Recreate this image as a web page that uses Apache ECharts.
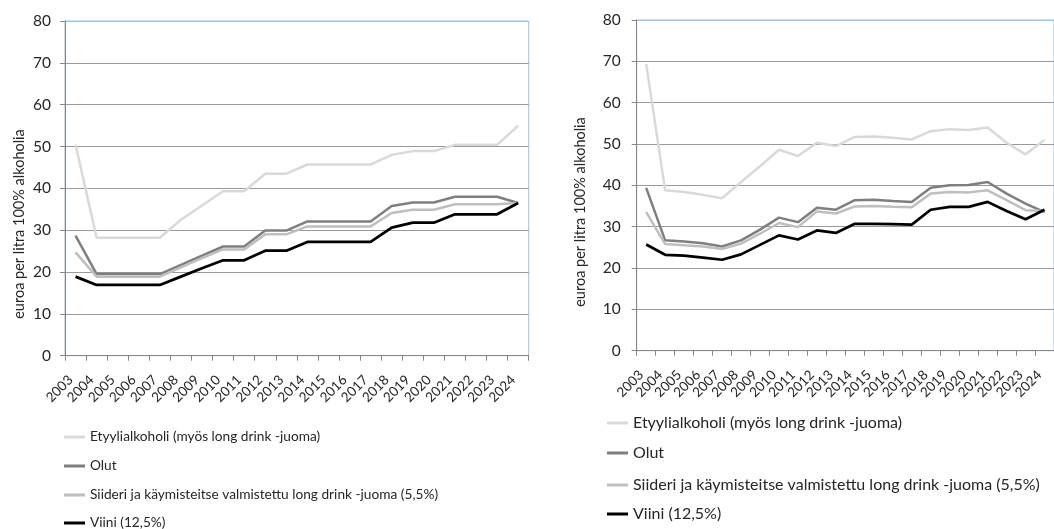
<!DOCTYPE html>
<html>
<head>
<meta charset="utf-8">
<script src="https://cdn.jsdelivr.net/npm/echarts@6/dist/echarts.min.js"></script>
<style>
html,body{margin:0;padding:0;background:#fff;}
#c{width:1054px;height:529px;}
</style>
</head>
<body>
<div id="c"></div>
<script>
var years = ['2003','2004','2005','2006','2007','2008','2009','2010','2011','2012','2013','2014','2015','2016','2017','2018','2019','2020','2021','2022','2023','2024'];
var seriesNames = ['Etyylialkoholi (myös long drink -juoma)','Olut','Siideri ja käymisteitse valmistettu long drink -juoma (5,5%)','Viini (12,5%)'];
var yTitle = 'euroa per litra 100% alkoholia';
var yTicks = [0,10,20,30,40,50,60,70,80];

// Left chart
var etyA   = [50.5,28.2,28.2,28.2,28.2,32.5,35.9,39.3,39.3,43.5,43.5,45.7,45.7,45.7,45.7,48.0,48.9,48.9,50.4,50.4,50.4,55.0];
var olutA  = [28.7,19.5,19.5,19.5,19.5,21.7,23.9,26.1,26.1,29.9,29.9,32.1,32.1,32.1,32.1,35.8,36.6,36.6,38.0,38.0,38.0,36.5];
var siidA  = [24.7,18.9,18.9,18.9,18.9,21.1,23.3,25.4,25.4,29.0,29.0,30.9,30.9,30.9,30.9,34.1,34.9,34.9,36.2,36.2,36.2,36.5];
var viiniA = [18.9,16.9,16.9,16.9,16.9,18.9,20.9,22.8,22.8,25.1,25.1,27.2,27.2,27.2,27.2,30.6,31.8,31.8,33.8,33.8,33.8,36.5];

// Right chart
var etyB   = [69.4,38.8,38.4,37.7,36.9,40.8,44.6,48.6,47.1,50.3,49.5,51.7,51.8,51.5,51.1,53.1,53.6,53.4,54.0,50.3,47.5,51.0];
var olutB  = [39.4,26.7,26.4,26.0,25.2,26.7,29.3,32.2,31.1,34.6,34.1,36.4,36.5,36.2,36.0,39.4,40.0,40.1,40.8,38.0,35.6,33.5];
var siidB  = [33.5,25.8,25.5,25.2,24.6,25.9,28.3,30.9,29.9,33.7,33.2,34.9,35.0,34.8,34.7,38.0,38.4,38.3,38.8,36.4,34.0,33.8];
var viiniB = [25.7,23.2,23.0,22.5,22.0,23.3,25.6,27.9,26.9,29.1,28.5,30.7,30.7,30.6,30.5,34.1,34.8,34.8,36.0,33.8,31.8,34.1];

var colors = ['#D9D9D9','#7F7F7F','#BFBFBF','#000000'];
var widths = [2.5,2.5,2.5,2.75];
var FONT = 'Lato';
var TXT = '#262626';
var GRIDC = '#9A9A9A';
var AXC = '#868686';
var BORDER = '#9DC3E6';

var splitColors = yTicks.map(function(v,i){ return i === yTicks.length-1 ? BORDER : GRIDC; });

function xAxisDef(gi){
  return {
    type:'category', gridIndex:gi, data:years, boundaryGap:true,
    axisLine:{show:true, lineStyle:{color:AXC, width:1}},
    axisTick:{show:true, alignWithLabel:false, length:5, lineStyle:{color:AXC}},
    axisLabel:{interval:0, rotate:45, margin:27, verticalAlign:'bottom', fontFamily:FONT, fontSize:13.5, color:TXT},
    splitLine:{show:false}
  };
}
function yAxisDef(gi, margin){
  return {
    type:'value', gridIndex:gi, min:0, max:80, interval:10,
    axisLine:{show:true, lineStyle:{color:AXC, width:1}},
    axisTick:{show:true, length:5, lineStyle:{color:AXC}},
    axisLabel:{margin:margin, fontFamily:FONT, fontSize:15.5, color:TXT},
    splitLine:{show:true, lineStyle:{color:splitColors, width:1}}
  };
}
var dataA = [etyA, olutA, siidA, viiniA];
var dataB = [etyB, olutB, siidB, viiniB];
var series = [];
[dataA, dataB].forEach(function(set, gi){
  set.forEach(function(d, i){
    series.push({
      type:'line', name:seriesNames[i], xAxisIndex:gi, yAxisIndex:gi,
      data:d, showSymbol:false, symbol:'none', animation:false,
      lineStyle:{color:colors[i], width:widths[i]}, itemStyle:{color:colors[i]},
      z: 2 + i
    });
  });
});

var legendRowsA = [437, 466, 495, 523];
var legendRowsB = [423, 453, 485, 514];
var legends = [];
seriesNames.forEach(function(n, i){
  legends.push({orient:'vertical', left:64, top:legendRowsA[i]-8, itemWidth:21, itemHeight:3, icon:'rect',
    data:[n], selectedMode:false, padding:0,
    textStyle:{fontFamily:FONT, fontSize:13.7, color:TXT, lineHeight:16}});
  legends.push({orient:'vertical', left:607, top:legendRowsB[i]-8, itemWidth:21, itemHeight:3, icon:'rect',
    data:[n], selectedMode:false, padding:0,
    textStyle:{fontFamily:FONT, fontSize:16, color:TXT, lineHeight:16}});
});

var chart = echarts.init(document.getElementById('c'), null, {renderer:'canvas'});
chart.setOption({
  animation:false,
  backgroundColor:'#fff',
  grid:[
    {left:65, top:21, width:463.7, height:334.7, containLabel:false, show:true, borderColor:BORDER, borderWidth:1, backgroundColor:'transparent'},
    {left:636.7, top:20, width:429.9, height:330.7, containLabel:false, show:true, borderColor:BORDER, borderWidth:1, backgroundColor:'transparent'}
  ],
  xAxis:[xAxisDef(0), xAxisDef(1)],
  yAxis:[yAxisDef(0, 14), yAxisDef(1, 16)],
  legend:legends,
  graphic:[
    {type:'text', x:19, y:224, rotation:Math.PI/2,
     style:{text:yTitle, fontFamily:FONT, fontSize:14.5, fill:TXT, textAlign:'center', textVerticalAlign:'middle', align:'center', verticalAlign:'middle'}},
    {type:'text', x:580, y:212, rotation:Math.PI/2,
     style:{text:yTitle, fontFamily:FONT, fontSize:14.5, fill:TXT, textAlign:'center', textVerticalAlign:'middle', align:'center', verticalAlign:'middle'}}
  ],
  series:series
});
</script>
</body>
</html>
